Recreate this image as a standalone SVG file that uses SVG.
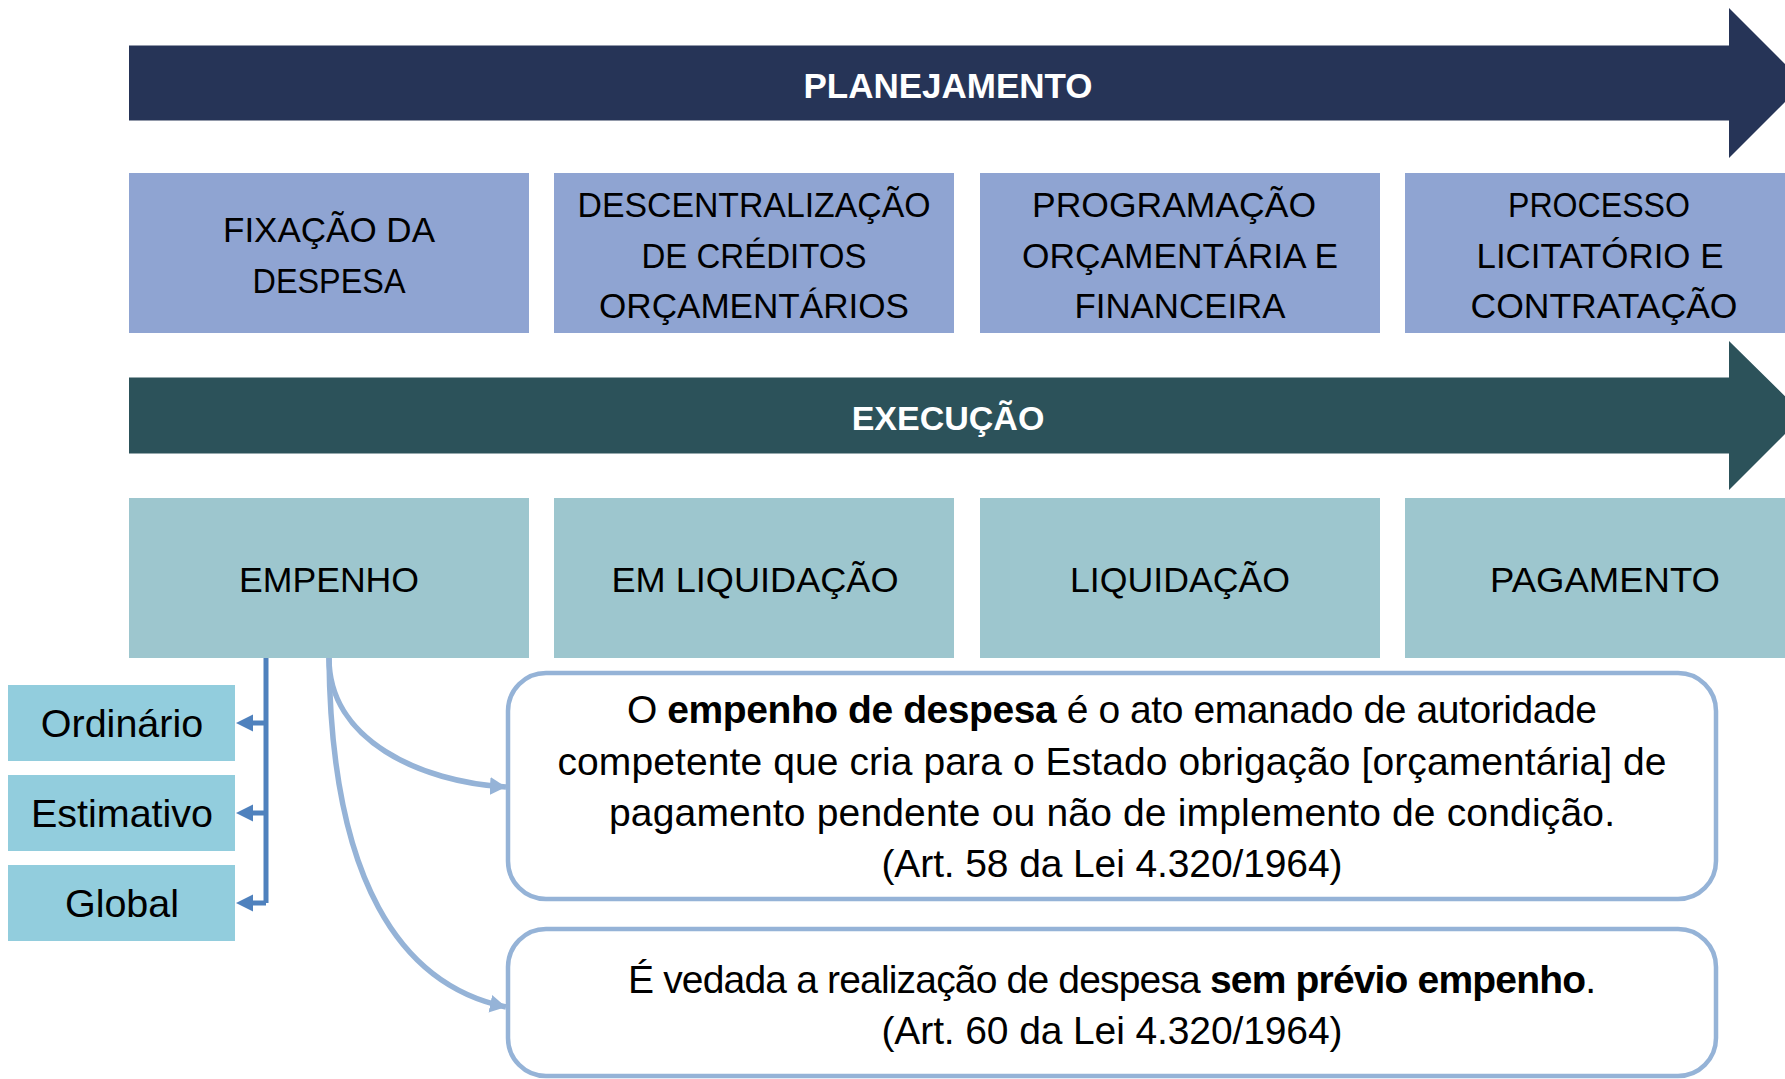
<svg xmlns="http://www.w3.org/2000/svg" width="1785" height="1079" viewBox="0 0 1785 1079">
  <defs>
    <style>
      .hdr { font-family: "Liberation Sans", Arial, sans-serif; font-weight: bold; fill: #ffffff; text-anchor: middle; }
      .plan { fill: #8FA4D2; }
      .exec { fill: #9DC6CE; }
      .tipo { fill: #92CDDD; }
      .lbl { font-family: "Liberation Sans", Arial, sans-serif; font-size: 35px; fill: #000000; text-anchor: middle; }
      .tl { font-family: "Liberation Sans", Arial, sans-serif; font-size: 39.5px; fill: #000000; text-anchor: middle; }
      .para { font-family: "Liberation Sans", Arial, sans-serif; font-size: 39px; fill: #000000; text-anchor: middle; }
      .note { fill: #ffffff; stroke: #95B3D7; stroke-width: 4.5; }
      .light { fill: none; stroke: #95B3D7; stroke-width: 5.5; }
      .dark { fill: none; stroke: #4F81BD; stroke-width: 5; }
    </style>
    <marker id="lightArrow" markerUnits="userSpaceOnUse" markerWidth="20" markerHeight="20" viewBox="0 0 20 20" refX="16" refY="10" orient="auto">
      <path d="M0,1 L16,10 L0,19 Z" fill="#95B3D7"/>
    </marker>
  </defs>

  <!-- Phase arrows -->
  <g id="planejamento">
    <polygon points="129,45.5 1729,45.5 1729,8 1804,83 1729,158 1729,120.5 129,120.5" fill="#263457"/>
    <text class="hdr" x="948" y="98" font-size="35">PLANEJAMENTO</text>
  </g>

  <g id="execucao">
    <polygon points="129,377.5 1729,377.5 1729,341 1804,415 1729,490 1729,453.5 129,453.5" fill="#2C525A"/>
    <text class="hdr" x="948" y="430" font-size="34">EXECUÇÃO</text>
  </g>

  <!-- Planning steps -->
  <g id="fixacao">
    <rect class="plan" x="129" y="173" width="400" height="160"/>
    <text class="lbl" x="329" y="242" textLength="212" lengthAdjust="spacingAndGlyphs">FIXAÇÃO DA</text>
    <text class="lbl" x="329" y="293" textLength="153" lengthAdjust="spacingAndGlyphs">DESPESA</text>
  </g>
  <g id="descentralizacao">
    <rect class="plan" x="554" y="173" width="400" height="160"/>
    <text class="lbl" x="754" y="217" textLength="353" lengthAdjust="spacingAndGlyphs">DESCENTRALIZAÇÃO</text>
    <text class="lbl" x="754" y="268" textLength="225" lengthAdjust="spacingAndGlyphs">DE CRÉDITOS</text>
    <text class="lbl" x="754" y="318" textLength="310" lengthAdjust="spacingAndGlyphs">ORÇAMENTÁRIOS</text>
  </g>
  <g id="programacao">
    <rect class="plan" x="980" y="173" width="400" height="160"/>
    <text class="lbl" x="1174" y="217" textLength="284" lengthAdjust="spacingAndGlyphs">PROGRAMAÇÃO</text>
    <text class="lbl" x="1180" y="268" textLength="316" lengthAdjust="spacingAndGlyphs">ORÇAMENTÁRIA E</text>
    <text class="lbl" x="1180" y="318" textLength="211" lengthAdjust="spacingAndGlyphs">FINANCEIRA</text>
  </g>
  <g id="processo">
    <rect class="plan" x="1405" y="173" width="400" height="160"/>
    <text class="lbl" x="1599" y="217" textLength="182" lengthAdjust="spacingAndGlyphs">PROCESSO</text>
    <text class="lbl" x="1600" y="268" textLength="247" lengthAdjust="spacingAndGlyphs">LICITATÓRIO E</text>
    <text class="lbl" x="1604" y="318" textLength="267" lengthAdjust="spacingAndGlyphs">CONTRATAÇÃO</text>
  </g>

  <!-- Execution steps -->
  <g id="empenho">
    <rect class="exec" x="129" y="498" width="400" height="160"/>
    <text class="lbl" x="329" y="592" textLength="180" lengthAdjust="spacingAndGlyphs">EMPENHO</text>
  </g>
  <g id="em-liquidacao">
    <rect class="exec" x="554" y="498" width="400" height="160"/>
    <text class="lbl" x="755" y="592" textLength="287" lengthAdjust="spacingAndGlyphs">EM LIQUIDAÇÃO</text>
  </g>
  <g id="liquidacao">
    <rect class="exec" x="980" y="498" width="400" height="160"/>
    <text class="lbl" x="1180" y="592" textLength="220" lengthAdjust="spacingAndGlyphs">LIQUIDAÇÃO</text>
  </g>
  <g id="pagamento">
    <rect class="exec" x="1405" y="498" width="400" height="160"/>
    <text class="lbl" x="1605" y="592" textLength="230" lengthAdjust="spacingAndGlyphs">PAGAMENTO</text>
  </g>

  <!-- Types of empenho -->
  <g id="ordinario">
    <rect class="tipo" x="8" y="685" width="227" height="76"/>
    <text class="tl" x="122" y="737">Ordinário</text>
  </g>
  <g id="estimativo">
    <rect class="tipo" x="8" y="775" width="227" height="76"/>
    <text class="tl" x="122" y="827">Estimativo</text>
  </g>
  <g id="global">
    <rect class="tipo" x="8" y="865" width="227" height="76"/>
    <text class="tl" x="122" y="917">Global</text>
  </g>

  <!-- Notes -->
  <g id="nota-art58">
    <rect class="note" x="508" y="673" width="1208" height="226" rx="38" ry="38"/>
    <text class="para" x="1112" y="723" textLength="970" lengthAdjust="spacing">O <tspan font-weight="bold">empenho de despesa</tspan> é o ato emanado de autoridade</text>
    <text class="para" x="1112" y="775" textLength="1109" lengthAdjust="spacing">competente que cria para o Estado obrigação [orçamentária] de</text>
    <text class="para" x="1112" y="826" textLength="1006" lengthAdjust="spacing">pagamento pendente ou não de implemento de condição.</text>
    <text class="para" x="1112" y="877" textLength="461" lengthAdjust="spacing">(Art. 58 da Lei 4.320/1964)</text>
  </g>
  <g id="nota-art60">
    <rect class="note" x="508" y="929" width="1208" height="147" rx="38" ry="38"/>
    <text class="para" x="1112" y="993" textLength="968" lengthAdjust="spacing">É vedada a realização de despesa <tspan font-weight="bold">sem prévio empenho</tspan>.</text>
    <text class="para" x="1112" y="1044" textLength="461" lengthAdjust="spacing">(Art. 60 da Lei 4.320/1964)</text>
  </g>

  <!-- Connectors -->
  <g id="connectors">
    <path class="dark" d="M266,658 L266,903"/>
    <path class="dark" d="M266,723 L250,723 M266,813 L250,813 M266,903 L250,903"/>
    <polygon points="236,723 253,714.5 253,731.5" fill="#4F81BD"/>
    <polygon points="236,813 253,804.5 253,821.5" fill="#4F81BD"/>
    <polygon points="236,903 253,894.5 253,911.5" fill="#4F81BD"/>
    <path class="light" d="M329,658 C329,740 420,782 506,787" marker-end="url(#lightArrow)"/>
    <path class="light" d="M329,658 C331,880 400,985 506,1007" marker-end="url(#lightArrow)"/>
  </g>
</svg>
